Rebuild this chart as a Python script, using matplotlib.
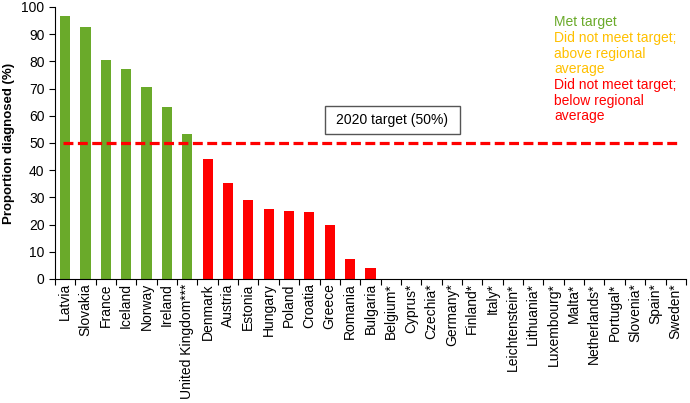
import matplotlib
matplotlib.use("Agg")
import matplotlib.pyplot as plt
from matplotlib.patches import Rectangle

countries = ["Latvia", "Slovakia", "France", "Iceland", "Norway", "Ireland",
             "United Kingdom***", "Denmark", "Austria", "Estonia", "Hungary",
             "Poland", "Croatia", "Greece", "Romania", "Bulgaria", "Belgium*",
             "Cyprus*", "Czechia*", "Germany*", "Finland*", "Italy*",
             "Leichtenstein*", "Lithuania*", "Luxembourg*", "Malta*",
             "Netherlands*", "Portugal*", "Slovenia*", "Spain*", "Sweden*"]
values = [96.7, 92.7, 80.5, 77.1, 70.7, 63.3, 53.4, 44.2, 35.2, 29.1, 25.9,
          25.0, 24.8, 20.0, 7.5, 4.0] + [0] * 15
target = 50
yticks = list(range(0, 101, 10))

GREEN = "#6aaa2a"
AMBER = "#ffc000"
RED = "#ff0000"
colors = [GREEN if v >= target else RED for v in values]

plt.rcParams['font.family'] = ['Liberation Sans', 'DejaVu Sans']

fig = plt.figure(figsize=(6.9, 4.03), dpi=100)
ax = fig.add_axes([0.0797, 0.3077, 0.9143, 0.675])

x = list(range(len(countries)))
ax.bar(x, values, width=0.5, color=colors, zorder=2)
ax.plot([-0.12, 30.2], [target, target], color=RED, lw=2.3,
        dashes=(3.1, 1.4), zorder=3)

ax.set_xlim(-0.5, len(countries) - 0.5)
ax.set_ylim(0, 100)
ax.set_yticks(yticks)
ax.set_xticks([i - 0.5 for i in range(len(countries) + 1)], minor=False)
ax.set_xticklabels([])
ax.set_xticks(x, minor=True)
ax.set_xticklabels(countries, minor=True, rotation=90, fontsize=10)
ax.tick_params(axis='x', which='minor', length=0, pad=3)
ax.tick_params(axis='x', which='major', length=4, direction='out')
ax.tick_params(axis='y', labelsize=10, length=4)
ax.spines['top'].set_visible(False)
ax.spines['right'].set_visible(False)
ax.set_ylabel("Proportion diagnosed (%)", fontsize=9.5, fontweight='bold', labelpad=5)

ax.add_patch(Rectangle((12.77, 53.3), 6.63, 10.4, fc='white', ec='#555555',
                       lw=1.0, zorder=4))
ax.text(16.08, 58.5, "2020 target (50%)", ha='center', va='center', fontsize=10,
        zorder=5)

lx = 554 / 690
items = [("Met target", GREEN), ("Did not meet target;", AMBER),
         ("above regional", AMBER), ("average", AMBER),
         ("Did not meet target;", RED), ("below regional", RED), ("average", RED)]
for i, (t, c) in enumerate(items):
    y = 1 - (22.3 + 15.7 * i) / 403
    fig.text(lx, y, t, color=c, fontsize=10, ha='left', va='center')

fig.savefig("out.png", dpi=100)
